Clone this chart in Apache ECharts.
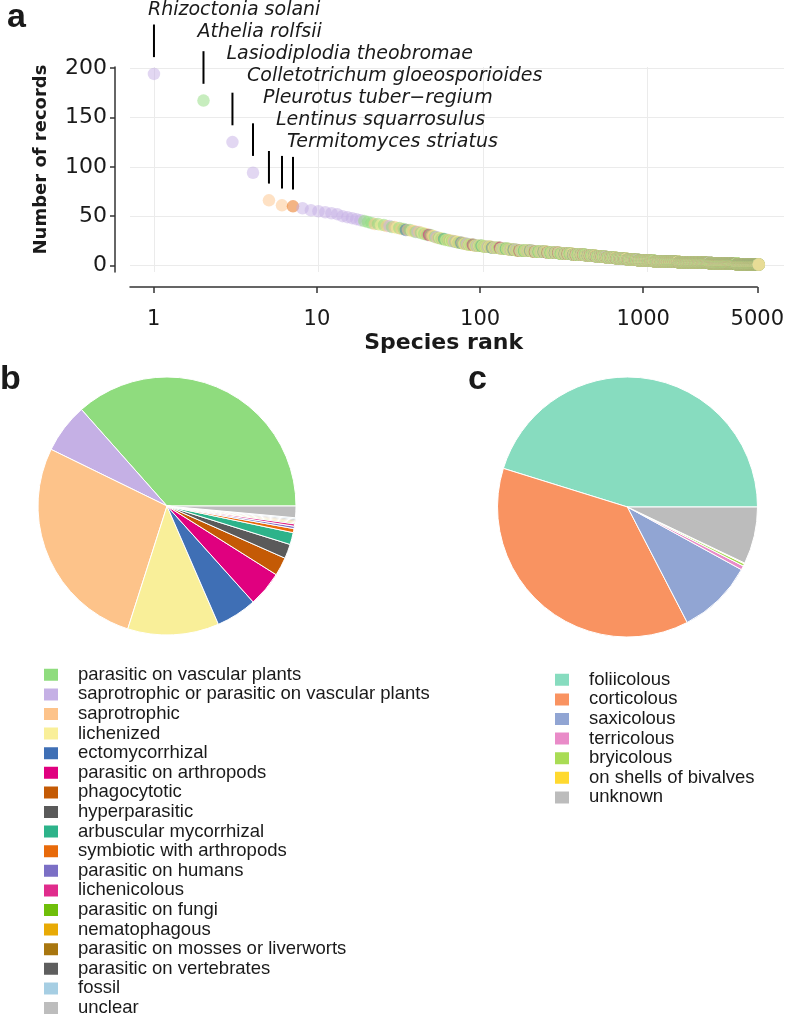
<!DOCTYPE html>
<html><head><meta charset="utf-8">
<script src="https://cdn.jsdelivr.net/npm/echarts@6/dist/echarts.min.js"></script>
<style>html,body{margin:0;padding:0;background:#fff}#c{width:787px;height:1018px}</style>
</head><body><div id="c"></div>
<script>
// ---------- DATA ----------
const lifestyleNames = ['parasitic on vascular plants','saprotrophic or parasitic on vascular plants','saprotrophic','lichenized','ectomycorrhizal','parasitic on arthropods','phagocytotic','hyperparasitic','arbuscular mycorrhizal','symbiotic with arthropods','parasitic on humans','lichenicolous','parasitic on fungi','nematophagous','parasitic on mosses or liverworts','parasitic on vertebrates','fossil','unclear'];
const lifestyleShare = [36.4,6.2,27.2,11.4,5.1,4.4,2.3,1.8,1.5,0.5,0.3,0.3,0.15,0.15,0.15,0.15,0.15,1.45];
const substrateNames = ['foliicolous','corticolous','saxicolous','terricolous','bryicolous','on shells of bivalves','unknown'];
const substrateShare = [45.2,37.4,9.4,0.5,0.3,0.1,7.1];
const topSpecies = ['Rhizoctonia solani','Athelia rolfsii','Lasiodiplodia theobromae','Colletotrichum gloeosporioides','Pleurotus tuber\u2212regium','Lentinus squarrosulus','Termitomyces striatus'];
// records of species ranked 1..20
const topCounts = [194,167,125,94,66,61,60,58,56,55,54,53,52,50,49,48,47,46,45,44];
// lifestyle index of species ranked 1..20
const topLifestyle = [1,0,1,1,2,2,9,1,1,1,1,1,1,1,1,1,1,1,0,0];
// remaining species: number of records and last rank holding that number
const tailCounts   = [43,42,41,40,39,38,37,36,35,34,33,32,31,30,29,28,27,26,25,24,23,22,21,20,19,18,17,16,15,14,13,12,11,10,9,8,7,6,5,4,3,2,1];
const tailLastRank = [21,23,25,27,29,31,33,36,38,41,43,45,48,50,52,55,58,62,66,70,75,80,88,100,112,127,143,160,200,245,293,350,420,485,560,645,750,880,1100,1550,2400,3500,4750];
// observed lifestyle mixture along the tail (repeating)
const tailLifestyleMix = [0,2,0,3,0,2,1,0,2,3,0,2,0,4,2,0,3,2,0,1,2,0,3,0,2,0,5,0,2,3,0,1,2,0,3,0,2,8,0,3];
const xTickValues = [1,10,100,1000,5000];
const yTickValues = [0,50,100,150,200];

// ---------- STYLE ----------
const lifestyleColors = ['#8fdc7e','#c5b0e5','#fdc38a','#f9ef99','#3f6fb5','#e0007f','#c45a05','#5a5a5a','#2db38a','#e86a0a','#7b6fc5','#e02c8c','#6fbf0a','#e8aa05','#a8760f','#5e5e5e','#a6cee3','#bdbdbd'];
const substrateColors = ['#87dcbf','#f99361','#91a5d3','#e98bc8','#a9dc55','#ffd92f','#bcbcbc'];
const FA = '"DejaVu Sans", sans-serif';
const FL = '"Liberation Sans", Arial, sans-serif';
const ink = '#1a1a1a';

// ---------- BUILD ----------
const points = [];
topCounts.forEach((c, i) => points.push([i + 1, c, topLifestyle[i]]));
let r = topCounts.length + 1, k = 0;
tailCounts.forEach((c, j) => {
  for (; r <= tailLastRank[j]; r++, k++) points.push([r, c, tailLifestyleMix[k % tailLifestyleMix.length]]);
});
const annot = topSpecies.map((n, i) => [i + 1, topCounts[i], n, i]);

const legendText = {fontFamily: FL, fontSize: 18.5, color: ink, lineHeight: 12.6, padding: [7,0,0,14]};
const chart = echarts.init(document.getElementById('c'), null, {renderer: 'canvas'});
chart.setOption({
  animation: false,
  backgroundColor: '#fff',
  grid: [
    {left: 130, right: 3, top: 67, bottom: 746},
    {left: 130, right: 25, top: 67, bottom: 746}
  ],
  xAxis: [
    {gridIndex: 0, type: 'log', logBase: 10, min: 0.715, max: 6760,
     axisLine: {show: false, onZero: false}, axisTick: {show: false, customValues: [1,10,100,1000]},
     axisLabel: {show: false}, splitLine: {show: true, lineStyle: {color: '#ebebeb', width: 1}}},
    {gridIndex: 1, type: 'log', logBase: 10, min: 0.715, max: 5000, offset: 15,
     axisLine: {show: true, onZero: false, lineStyle: {color: '#333', width: 1.5}},
     axisTick: {show: true, length: 6, customValues: xTickValues, lineStyle: {color: '#333', width: 1.5}},
     axisLabel: {show: true, customValues: xTickValues, formatter: v => String(v), margin: 22, fontFamily: FA, fontSize: 21, color: ink},
     splitLine: {show: false},
     name: 'Species rank', nameLocation: 'middle', nameGap: 45,
     nameTextStyle: {fontFamily: FA, fontWeight: 'bold', fontSize: 22, color: ink}}
  ],
  yAxis: [
    {gridIndex: 0, type: 'value', min: -6.5, max: 201, offset: 15,
     axisLine: {show: true, onZero: false, lineStyle: {color: '#333', width: 1.5}},
     axisTick: {show: true, length: 5, customValues: yTickValues, lineStyle: {color: '#333', width: 1.5}},
     axisLabel: {show: true, customValues: yTickValues, margin: 8, fontFamily: FA, fontSize: 22, color: ink},
     splitLine: {show: true, lineStyle: {color: '#ebebeb', width: 1}},
     name: 'Number of records', nameLocation: 'middle', nameRotate: 90, nameGap: 65,
     nameTextStyle: {fontFamily: FA, fontWeight: 'bold', fontSize: 18, color: ink, padding: [0,0,0,20]}},
    {gridIndex: 1, type: 'value', min: -6.5, max: 201, show: false}
  ],
  legend: [
    {orient: 'vertical', left: 42, top: 665, height: 360, padding: 0, data: lifestyleNames, icon: 'rect', itemWidth: 16, itemHeight: 14, itemGap: 0,
     selectedMode: false, textStyle: legendText},
    {orient: 'vertical', left: 553, top: 670, padding: 0, data: substrateNames, icon: 'rect', itemWidth: 16, itemHeight: 14, itemGap: 0,
     selectedMode: false, textStyle: legendText}
  ],
  graphic: [
    {type: 'text', left: 7, top: 1, style: {text: 'a', font: 'bold 34px ' + FL, fill: ink}},
    {type: 'text', left: 0, top: 363, style: {text: 'b', font: 'bold 34px ' + FL, fill: ink}},
    {type: 'text', left: 468, top: 363, style: {text: 'c', font: 'bold 34px ' + FL, fill: ink}}
  ],
  series: [
    {type: 'scatter', xAxisIndex: 0, yAxisIndex: 0, data: points, symbolSize: 12.5, progressive: 0, large: false, clip: false,
     itemStyle: {opacity: 0.5, color: p => lifestyleColors[p.data[2]]}, emphasis: {disabled: true}, silent: true},
    {type: 'custom', xAxisIndex: 0, yAxisIndex: 0, data: annot, clip: false, silent: true,
     renderItem: (params, api) => {
       const rank = api.value(0), c = api.value(1), i = api.value(3);
       const a = api.coord([rank, c + 17]), b = api.coord([rank, c + 50]);
       const t = api.coord([rank, 259 - 22.3 * i]);
       return {type: 'group', children: [
         {type: 'line', shape: {x1: a[0], y1: a[1], x2: b[0], y2: b[1]}, style: {stroke: '#000', lineWidth: 2}},
         {type: 'text', x: t[0] - 6, y: t[1], style: {text: topSpecies[i], font: 'italic 19px ' + FA, fill: ink, align: 'left', verticalAlign: 'middle'}}
       ]};
     }},
    {type: 'pie', center: [167, 506], radius: 129, startAngle: 0, clockwise: false,
     label: {show: false}, labelLine: {show: false}, silent: true,
     itemStyle: {borderColor: '#fff', borderWidth: 1},
     data: lifestyleNames.map((n, i) => ({name: n, value: lifestyleShare[i], itemStyle: {color: lifestyleColors[i]}}))},
    {type: 'pie', center: [627.5, 507], radius: 130, startAngle: 0, clockwise: false,
     label: {show: false}, labelLine: {show: false}, silent: true,
     itemStyle: {borderColor: '#fff', borderWidth: 1},
     data: substrateNames.map((n, i) => ({name: n, value: substrateShare[i], itemStyle: {color: substrateColors[i]}}))}
  ]
});
</script></body></html>
